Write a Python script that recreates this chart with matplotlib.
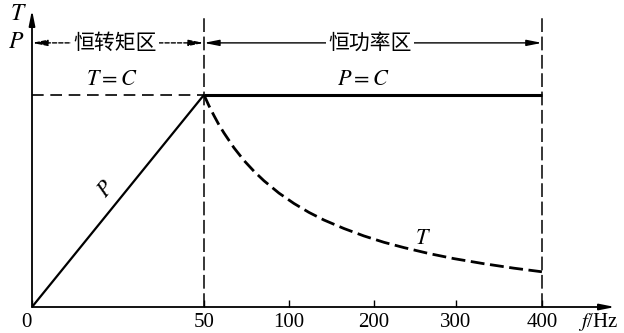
import numpy as np
import matplotlib.pyplot as plt

plt.rcParams['font.family'] = ['Liberation Serif', 'Noto Sans CJK SC']
plt.rcParams['mathtext.fontset'] = 'stix'

# 频率刻度 (图中横轴不是均匀的)
f_ticks = [0, 50, 100, 200, 300, 400]
f_tick_labels = ['0', '50', '100', '200', '300', '400']
# 横轴刻度在图上的位置 (相对原点)
f_knots = [0, 50, 100, 200, 300, 400, 600]
u_knots = [0, 172, 257, 342, 424, 510, 682]

f_base = 50
f_max = 400
# P 线 (恒转矩区)
p_f = [0, 50]
p_val = [0, 1.0]
# P = C (恒功率区)
pc_f = [50, 400]
pc_val = [1.0, 1.0]
# T = C
tc_f = [0, 50]
tc_val = [1.0, 1.0]
# T 曲线 (恒功率区)
t_f = [50, 52.9, 55.9, 58.8, 61.8, 67.6, 73.5, 79.4, 85.3, 94.1, 105.9,
       123.5, 141.2, 164.7, 188.2, 212.2, 236.6, 267.1, 297.6, 332.6, 367.4,
       400]
t_val = [1.0, 0.949, 0.902, 0.859, 0.820, 0.751, 0.691, 0.640, 0.595, 0.537,
         0.488, 0.446, 0.410, 0.370, 0.335, 0.305, 0.280, 0.252, 0.228, 0.204,
         0.183, 0.166]


def fwd(f):
    return np.interp(f, f_knots, u_knots)


def inv(u):
    return np.interp(u, u_knots, f_knots)


fig = plt.figure(figsize=(6.24, 3.33), dpi=100)
ax = fig.add_axes([32 / 624, 26 / 333, 583 / 624, 297 / 333])
ax.set_xscale('function', functions=(fwd, inv))
ax.set_xlim(0, 485)
ax.set_ylim(0, 1.40)
for s in ax.spines.values():
    s.set_visible(False)
ax.set_yticks([])

# 坐标轴箭头
arrow = '-|>,head_width=0.18,head_length=0.9'
ax.annotate('', xy=(1, 0), xytext=(0, 0), xycoords='axes fraction',
            arrowprops=dict(arrowstyle=arrow, color='black', lw=1.3,
                            shrinkA=0, shrinkB=0))
ax.annotate('', xy=(0, 1), xytext=(0, 0), xycoords='axes fraction',
            arrowprops=dict(arrowstyle=arrow, color='black', lw=1.3,
                            shrinkA=0, shrinkB=0))

ax.set_xticks(f_ticks)
ax.set_xticklabels(f_tick_labels, fontsize=15)
ax.get_xticklabels()[0].set_ha('right')
ax.tick_params(axis='x', direction='in', length=5, width=1, pad=4)
ax.xaxis.set_minor_locator(plt.NullLocator())

# 曲线
ax.plot(p_f, p_val, color='black', lw=1.6, solid_capstyle='butt')
ax.plot(pc_f, pc_val, color='black', lw=2.2, solid_capstyle='butt')
ax.plot(tc_f, tc_val, color='black', lw=1.2, dashes=(7, 4))
ax.plot(t_f, t_val, color='black', lw=2.0, dashes=(5, 2))

# 分区虚线
for fx in [f_base, f_max]:
    ax.plot([fx, fx], [0, 1.36], color='black', lw=1.1, dashes=(9, 3),
            clip_on=False)

# 分区箭头
y_arr = 1.245
ax.annotate('', xy=(0, y_arr), xytext=(f_base, y_arr),
            arrowprops=dict(arrowstyle='<|-|>,head_width=0.18,head_length=0.9',
                            color='black', lw=1.0, ls=(0, (3, 1.5)),
                            shrinkA=0, shrinkB=0))
ax.annotate('', xy=(f_base, y_arr), xytext=(f_max, y_arr),
            arrowprops=dict(arrowstyle='<|-|>,head_width=0.18,head_length=0.9',
                            color='black', lw=1.0, shrinkA=0, shrinkB=0))
ax.text(inv(83), y_arr, '恒转矩区', fontsize=15, ha='center', va='center',
        family=['Noto Sans CJK SC'],
        bbox=dict(facecolor='white', edgecolor='none', pad=1.5))
ax.text(inv(338), y_arr, '恒功率区', fontsize=15, ha='center', va='center',
        family=['Noto Sans CJK SC'],
        bbox=dict(facecolor='white', edgecolor='none', pad=1.5))

# 文字
ax.text(inv(80), 1.07, '$T=C$', fontsize=16, ha='center', va='center')
ax.text(inv(331), 1.07, '$P=C$', fontsize=16, ha='center', va='center')
ax.text(inv(75), 0.55, '$P$', fontsize=16, ha='center', va='center', rotation=50)
ax.text(inv(391), 0.32, '$T$', fontsize=16, ha='center', va='center')
fig.text(18 / 624, 1 - 15 / 333, '$T$', fontsize=17, ha='center', va='center')
fig.text(16 / 624, 1 - 43 / 333, '$P$', fontsize=17, ha='center', va='center')
fig.text(598 / 624, 1 - 322 / 333, '$f$/Hz', fontsize=15, ha='center',
         va='center')

fig.savefig('out.png', dpi=100)
